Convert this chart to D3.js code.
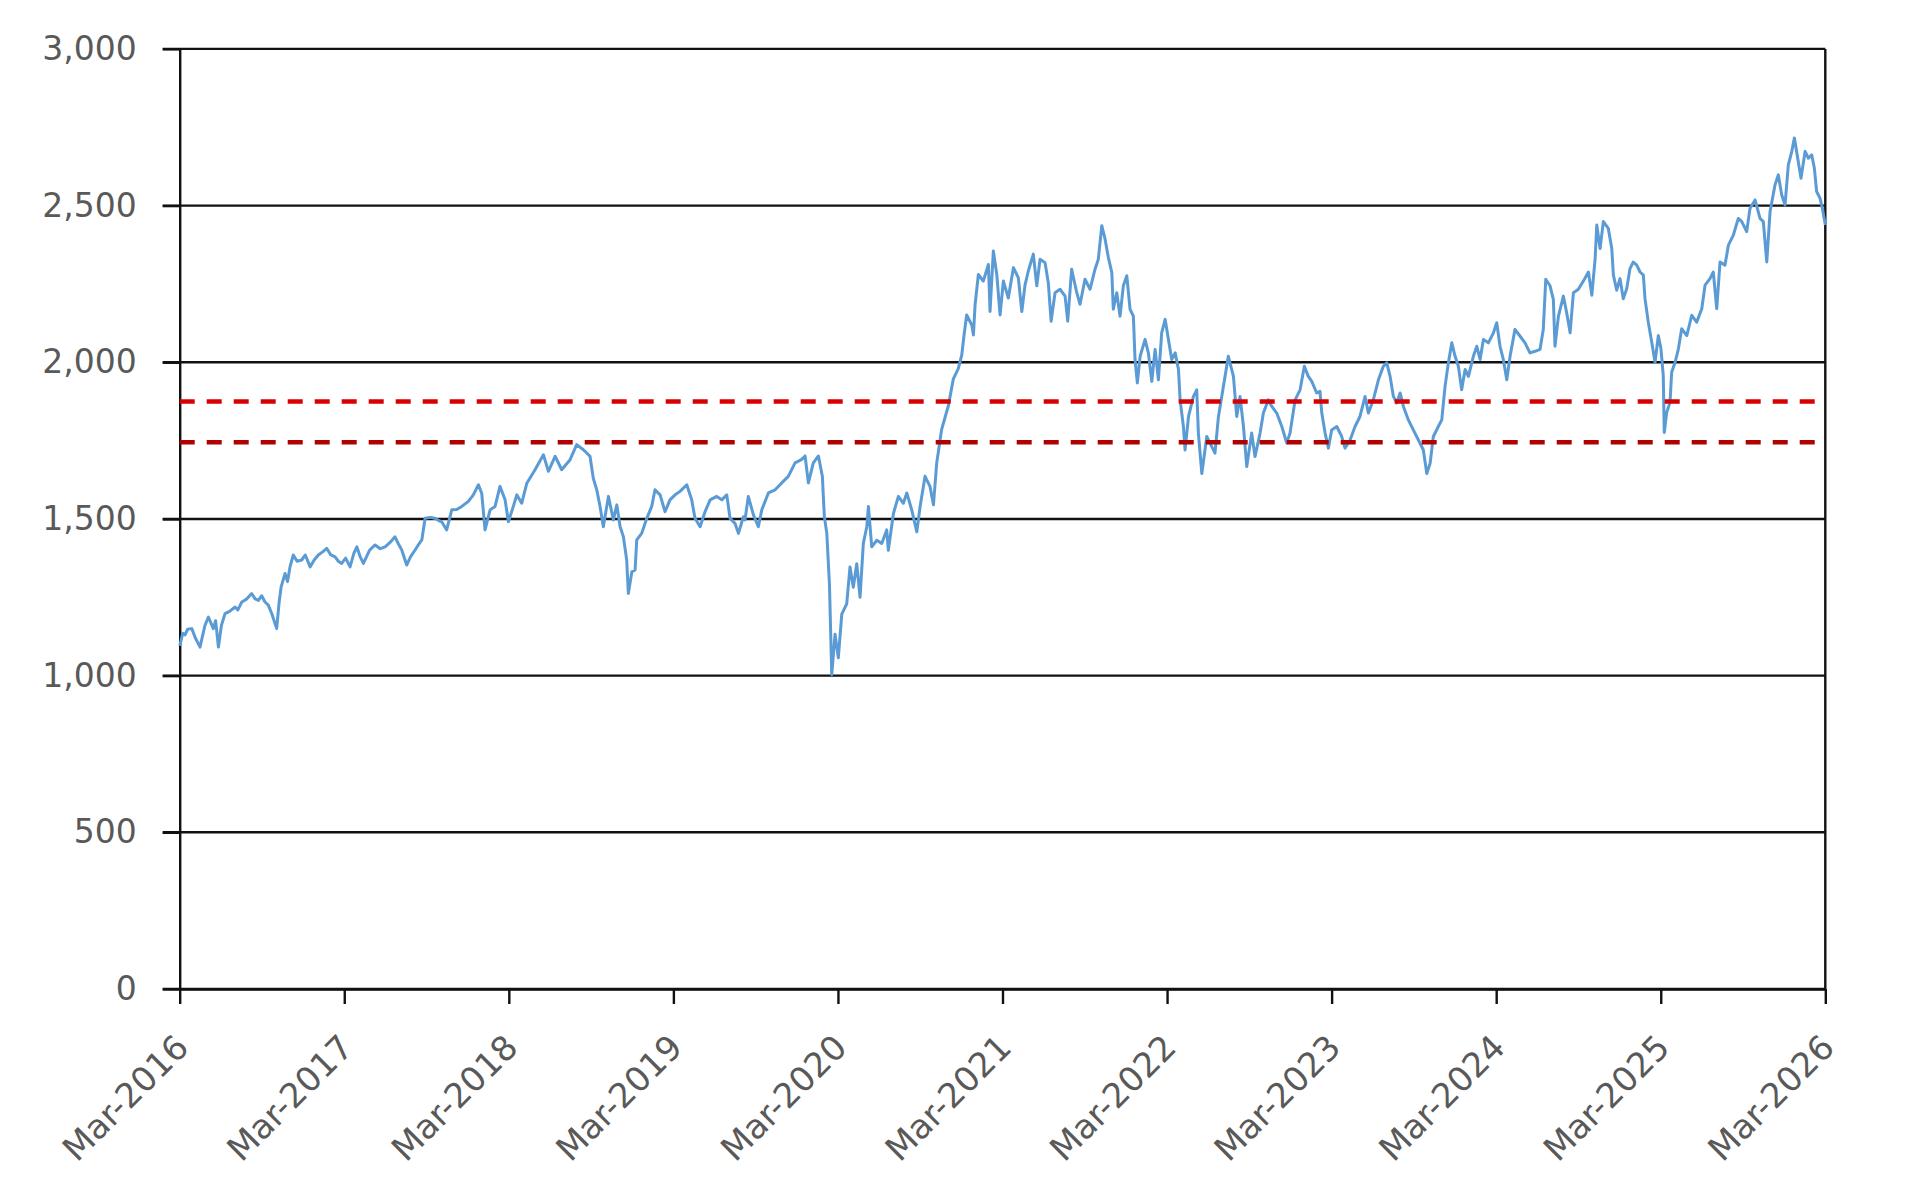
<!DOCTYPE html>
<html><head><meta charset="utf-8">
<script src="https://cdn.jsdelivr.net/npm/d3@7"></script>
<style>
html,body{margin:0;padding:0;background:#fff;}
svg{display:block;}
</style></head><body>
<svg id="chart" width="1917" height="1197"></svg>
<script>
// Dates as decimal years
const dates = [
2016.167,2016.185,2016.199,2016.215,2016.240,2016.262,2016.290,2016.320,2016.341,2016.371,2016.385,2016.402,2016.420,2016.442,2016.470,2016.503,2016.520,2016.544,2016.575,2016.604,2016.625,2016.645,2016.665,2016.685,2016.705,2016.726,2016.756,2016.770,2016.783,2016.807,2016.822,2016.837,2016.857,2016.880,2016.908,2016.930,2016.959,2016.985,2017.009,2017.035,2017.060,2017.085,2017.111,2017.131,2017.151,2017.175,2017.202,2017.225,2017.243,2017.263,2017.283,2017.320,2017.354,2017.385,2017.415,2017.445,2017.475,2017.496,2017.516,2017.546,2017.570,2017.597,2017.620,2017.638,2017.658,2017.690,2017.718,2017.740,2017.759,2017.789,2017.820,2017.850,
2017.881,2017.921,2017.951,2017.982,2018.002,2018.022,2018.053,2018.083,2018.113,2018.144,2018.164,2018.194,2018.215,2018.245,2018.276,2018.326,2018.377,2018.407,2018.448,2018.488,2018.539,2018.579,2018.620,2018.660,2018.680,2018.701,2018.721,2018.741,2018.772,2018.802,2018.823,2018.843,2018.863,2018.883,2018.893,2018.914,2018.934,2018.944,2018.974,2019.005,2019.035,2019.055,2019.086,2019.116,2019.146,2019.177,2019.207,2019.248,2019.278,2019.298,2019.329,2019.359,2019.390,2019.430,2019.461,2019.491,2019.511,2019.541,2019.562,2019.592,
2019.602,2019.622,2019.653,2019.683,2019.704,2019.744,2019.785,2019.825,2019.865,2019.906,2019.947,2019.967,2019.987,2020.017,2020.048,2020.072,2020.084,2020.099,2020.115,2020.129,2020.149,2020.169,2020.190,2020.220,2020.240,2020.260,2020.281,2020.301,2020.321,2020.342,2020.352,2020.372,2020.403,2020.433,2020.463,2020.473,2020.504,2020.534,2020.564,2020.585,2020.615,2020.646,2020.666,2020.696,2020.726,2020.747,2020.767,2020.797,2020.838,2020.868,2020.898,2020.919,2020.933,2020.949,2020.980,2020.990,2021.000,2021.020,2021.050,2021.081,2021.091,2021.111,2021.132,2021.152,2021.172,2021.202,2021.233,2021.263,2021.284,2021.304,
2021.324,2021.354,2021.375,2021.395,2021.425,2021.445,2021.462,2021.486,2021.516,2021.547,2021.563,2021.587,2021.618,2021.638,2021.668,2021.699,2021.729,2021.749,2021.770,2021.790,2021.810,2021.831,2021.840,2021.861,2021.881,2021.901,2021.922,2021.942,2021.962,2021.972,2021.986,2022.003,2022.033,2022.053,2022.074,2022.094,2022.114,2022.134,2022.155,2022.175,2022.195,2022.216,2022.236,2022.246,2022.266,2022.276,2022.297,2022.327,2022.347,2022.357,2022.378,2022.408,2022.438,2022.458,2022.479,2022.509,2022.539,2022.570,2022.590,2022.610,2022.631,2022.651,2022.681,2022.701,2022.732,2022.752,2022.782,2022.803,2022.833,2022.864,2022.894,2022.914,2022.945,2022.975,2023.001,
2023.025,2023.046,2023.076,2023.096,2023.107,2023.127,2023.147,2023.167,2023.198,2023.228,2023.248,2023.279,2023.309,2023.339,2023.370,2023.390,2023.420,2023.451,2023.481,2023.502,2023.522,2023.542,2023.562,2023.583,2023.603,2023.633,2023.663,2023.694,2023.724,2023.745,2023.765,2023.785,2023.815,2023.836,2023.856,2023.876,2023.897,2023.917,2023.937,2023.957,2023.978,2023.998,2024.028,2024.049,2024.069,2024.089,2024.119,2024.150,2024.170,2024.190,2024.210,2024.231,2024.251,2024.281,2024.312,2024.342,2024.372,2024.403,2024.433,2024.453,2024.468,2024.494,2024.514,2024.524,2024.545,2024.575,2024.595,2024.616,2024.636,2024.666,2024.703,
2024.727,2024.748,2024.768,2024.778,2024.798,2024.818,2024.848,2024.869,2024.879,2024.899,2024.919,2024.939,2024.960,2024.980,2025.000,2025.021,2025.041,2025.061,2025.071,2025.091,2025.112,2025.132,2025.152,2025.168,2025.182,2025.188,2025.203,2025.223,2025.233,2025.254,2025.274,2025.294,2025.325,2025.355,2025.385,2025.416,2025.436,2025.466,2025.486,2025.507,2025.527,2025.557,2025.578,2025.608,2025.638,2025.659,2025.689,2025.709,2025.740,2025.770,2025.790,2025.811,2025.831,2025.861,2025.881,2025.902,2025.922,2025.942,2025.963,2025.979,2025.999,2026.019,2026.044,2026.064,2026.084,2026.100,2026.114,2026.135,2026.149,2026.167
];
const values = [
1095,1135,1130,1148,1150,1120,1091,1160,1187,1150,1175,1091,1160,1198,1205,1219,1210,1235,1245,1262,1245,1240,1255,1235,1225,1198,1150,1230,1283,1326,1300,1347,1385,1365,1369,1385,1347,1370,1385,1395,1406,1385,1379,1365,1358,1375,1347,1390,1411,1380,1358,1400,1417,1405,1411,1425,1443,1420,1401,1353,1380,1401,1420,1433,1502,1505,1502,1495,1491,1465,1529,1530,
1540,1556,1577,1609,1582,1465,1529,1540,1604,1561,1491,1540,1577,1550,1614,1657,1705,1652,1700,1657,1689,1737,1721,1700,1630,1593,1540,1475,1572,1497,1545,1475,1443,1369,1262,1331,1337,1433,1454,1502,1540,1593,1577,1523,1561,1577,1588,1609,1561,1502,1475,1523,1561,1572,1561,1577,1502,1486,1454,1507,
1497,1572,1513,1475,1529,1583,1593,1615,1636,1679,1690,1701,1615,1679,1701,1636,1508,1454,1293,1003,1132,1057,1196,1229,1347,1282,1357,1250,1422,1475,1540,1411,1432,1422,1465,1400,1518,1572,1550,1583,1529,1459,1540,1636,1604,1545,1679,1786,1862,1947,1980,2023,2087,2151,2119,2087,2183,2280,2259,2312,2162,2355,2280,2151,2259,2205,2302,2269,2162,2248,
2292,2345,2244,2329,2318,2254,2131,2222,2233,2211,2131,2297,2222,2185,2265,2233,2297,2329,2436,2393,2334,2286,2169,2222,2147,2244,2276,2169,2147,2009,1934,2019,2073,2030,1939,2041,1944,2094,2137,2073,2009,2030,1977,1880,1795,1720,1827,1891,1912,1774,1645,1763,1731,1710,1827,1923,2019,1955,1827,1891,1795,1667,1774,1699,1774,1838,1880,1859,1838,1795,1742,1774,1880,1912,1987,
1955,1939,1902,1907,1838,1774,1726,1784,1795,1763,1726,1752,1795,1827,1891,1838,1880,1944,1987,1998,1955,1891,1870,1902,1859,1816,1784,1752,1720,1645,1677,1763,1795,1816,1923,1998,2062,2019,1987,1912,1977,1955,2019,2051,2009,2073,2062,2094,2126,2051,2009,1944,2019,2105,2083,2062,2030,2035,2041,2105,2265,2244,2201,2051,2147,2211,2158,2094,2222,2233,2265,
2288,2214,2331,2438,2363,2449,2427,2363,2278,2230,2267,2203,2235,2299,2320,2310,2288,2278,2203,2128,2064,2000,2085,2043,1957,1776,1840,1872,1968,2000,2043,2107,2085,2150,2128,2171,2246,2267,2288,2171,2320,2310,2374,2406,2459,2449,2417,2491,2518,2459,2449,2320,2481,2566,2598,2534,2502,2630,2673,2716,2651,2587,2673,2651,2662,2620,2545,2523,2491,2438
];
const yTicks = [0, 500, 1000, 1500, 2000, 2500, 3000];
const xTickYears = [2016, 2017, 2018, 2019, 2020, 2021, 2022, 2023, 2024, 2025, 2026];
const xTickLabels = ["Mar-2016","Mar-2017","Mar-2018","Mar-2019","Mar-2020","Mar-2021","Mar-2022","Mar-2023","Mar-2024","Mar-2025","Mar-2026"];
const bandLevels = [1875, 1745];

// layout & style
const L = 179.7, R = 1825.3, T = 48.9, B = 989;
const bandColors = ["#d80000", "#b00000"];
const font = "'DejaVu Sans', Verdana, sans-serif";

const svg = d3.select("#chart");
const x = d3.scaleLinear().domain([2016 + 2/12, 2026 + 2/12]).range([L, R]);
const y = d3.scaleLinear().domain([0, 3000]).range([B, T]);

// gridlines
svg.append("g").selectAll("line").data(yTicks).join("line")
  .attr("x1", L - 17).attr("x2", R)
  .attr("y1", d => y(d)).attr("y2", d => y(d))
  .attr("stroke", "#111").attr("stroke-width", 2.4);

// y axis
const gy = svg.append("g").attr("transform", `translate(${L},0)`)
  .call(d3.axisLeft(y).tickValues(yTicks).tickSize(17).tickSizeOuter(0).tickPadding(26).tickFormat(d3.format(",")));
gy.select(".domain").attr("stroke", "#111").attr("stroke-width", 2.4);
gy.selectAll(".tick line").attr("stroke", "#111").attr("stroke-width", 2.4);
gy.selectAll("text").attr("font-family", font).attr("font-size", 33).attr("fill", "#595959");

// x axis
const gx = svg.append("g").attr("transform", `translate(0,${B})`)
  .call(d3.axisBottom(x).tickValues(xTickYears.map(v => v + 2/12)).tickSize(15).tickSizeOuter(0)
    .tickFormat((d, i) => xTickLabels[i]));
gx.select(".domain").attr("stroke", "#111").attr("stroke-width", 2.4);
gx.selectAll(".tick line").attr("stroke", "#111").attr("stroke-width", 2.4);
gx.selectAll("text")
  .attr("font-family", font).attr("font-size", 34).attr("fill", "#595959")
  .attr("x", 0).attr("y", 0).attr("dy", "0.35em")
  .attr("transform", "translate(2,52) rotate(-45)")
  .style("text-anchor", "end");

// right border
svg.append("line").attr("x1", R).attr("x2", R).attr("y1", T).attr("y2", B)
  .attr("stroke", "#111").attr("stroke-width", 2.4);

// data line
const pts = dates.map((d, i) => ({t: d, v: values[i]}));
svg.append("path").datum(pts)
  .attr("fill", "none").attr("stroke", "#5b9bd5").attr("stroke-width", 3)
  .attr("stroke-linejoin", "round")
  .attr("d", d3.line().x(d => x(d.t)).y(d => y(d.v)));

// dashed reference lines
svg.append("g").selectAll("line").data(bandLevels).join("line")
  .attr("x1", L).attr("x2", R)
  .attr("y1", d => y(d)).attr("y2", d => y(d))
  .attr("stroke", (d, i) => bandColors[i]).attr("stroke-width", 4.5)
  .attr("stroke-dasharray", "15,12");
</script>
</body></html>
